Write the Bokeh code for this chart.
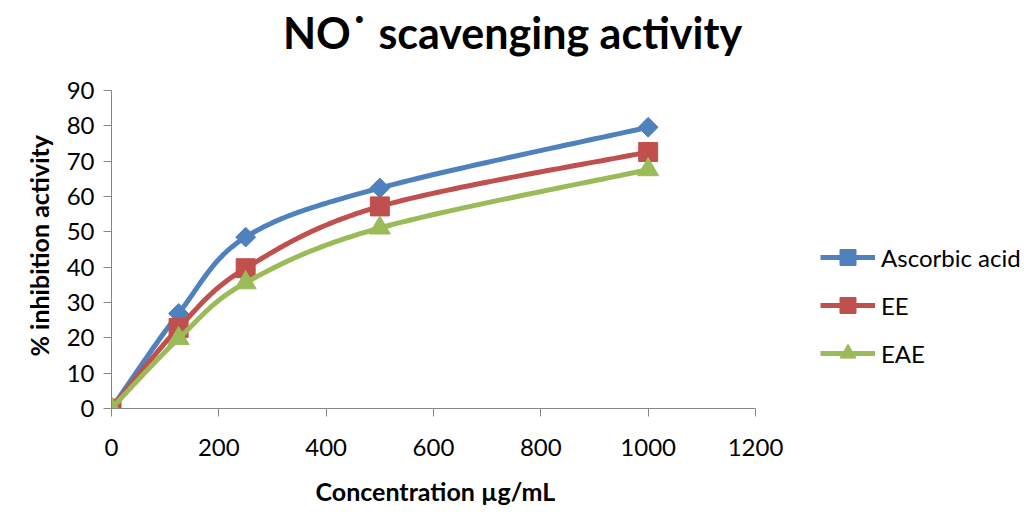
import numpy as np
from bokeh.plotting import figure
from bokeh.models import Legend, LegendItem, FixedTicker, Title, Label
from bokeh.embed import file_html
from bokeh.resources import INLINE

# ---- data ----
concentration = [0, 125, 250, 500, 1000]
ascorbic_acid = [0, 26.9, 48.5, 62.4, 79.6]
ee = [0, 22.8, 39.7, 57.2, 72.6]
eae = [0, 19.8, 35.6, 51.1, 67.6]
series_names = ["Ascorbic acid", "EE", "EAE"]
series_colors = ["#4F81BD", "#C0504D", "#9BBB59"]
series_markers = ["diamond", "square", "triangle"]
x_ticks = [0, 200, 400, 600, 800, 1000, 1200]
y_ticks = [0, 10, 20, 30, 40, 50, 60, 70, 80, 90]
x_axis_max = 1200
y_axis_max = 90

FONT = "Lato"

# layout (pixels)
W, H = 1024, 521
LEFT, AXIS_RIGHT, AXIS_TOP, BOTTOM = 111, 755, 90, 408
# the frame reaches to the right and top edges so that the legend and title
# (drawn inside the frame) are not clipped; the axes are bounded to their data extent
x_end = x_axis_max * (W - LEFT) / (AXIS_RIGHT - LEFT)
y_end = y_axis_max * BOTTOM / (BOTTOM - AXIS_TOP)


def smooth(xs, ys, n=40):
    """Excel-style smoothed line (Catmull-Rom / cubic Bezier) through the data points."""
    P = np.column_stack([xs, ys]).astype(float)
    m = len(P)
    out = [P[0]]
    for i in range(m - 1):
        p0 = P[i - 1] if i > 0 else P[i]
        p1 = P[i]
        p2 = P[i + 1]
        p3 = P[i + 2] if i + 2 < m else P[i + 1]
        c1 = p1 + (p2 - p0) / 6.0
        c2 = p2 - (p3 - p1) / 6.0
        t = np.linspace(0, 1, n)[1:, None]
        seg = ((1 - t) ** 3) * p1 + 3 * ((1 - t) ** 2) * t * c1 + 3 * (1 - t) * t ** 2 * c2 + t ** 3 * p2
        out.extend(seg)
    out = np.array(out)
    return out[:, 0], out[:, 1]


p = figure(width=W, height=H, x_range=(0, x_end), y_range=(0, y_end),
           output_backend="svg", toolbar_location=None,
           min_border_left=LEFT, min_border_right=0, min_border_top=0,
           min_border_bottom=H - BOTTOM)
p.outline_line_color = None
p.xgrid.visible = False
p.ygrid.visible = False

for ax in (p.xaxis, p.yaxis):
    ax.axis_line_color = "#868686"
    ax.axis_line_width = 1
    ax.major_tick_line_color = "#868686"
    ax.minor_tick_line_color = None
    ax.major_tick_in = 0
    ax.major_tick_out = 8
    ax.major_label_text_font = FONT
    ax.major_label_text_font_size = "24px"
    ax.major_label_text_color = "black"
    ax.axis_label_text_font = FONT
    ax.axis_label_text_font_style = "bold"
    ax.axis_label_text_font_size = "25px"
    ax.axis_label_text_color = "black"

p.xaxis.bounds = (0, x_axis_max)
p.yaxis.bounds = (0, y_axis_max)
p.xaxis.ticker = FixedTicker(ticks=x_ticks)
p.yaxis.ticker = FixedTicker(ticks=y_ticks)
p.xaxis.major_label_standoff = 22
p.yaxis.major_label_standoff = 9

# axis titles, centred on the drawn axes rather than on the whole frame
xtitle = Title(text="Concentration µg/mL", text_font=FONT, text_font_style="bold",
               text_font_size="25px", align="left", offset=315 - LEFT, text_color="black",
               standoff=31)
p.add_layout(xtitle, "below")
ytitle = Title(text="% inhibition activity", text_font=FONT, text_font_style="bold",
               text_font_size="25px", align="left", offset=409 - 357, text_color="black",
               standoff=20)
p.add_layout(ytitle, "left")

items = []
for name, ys, col, mk in zip(series_names, [ascorbic_acid, ee, eae], series_colors, series_markers):
    sx, sy = smooth(concentration, ys)
    r1 = p.line(sx, sy, line_color=col, line_width=5)
    if mk == "diamond":
        r2 = p.scatter(concentration, ys, marker="square", size=14, angle=np.pi / 4,
                       fill_color=col, line_color=col)
    elif mk == "triangle":
        r2 = p.scatter(concentration, ys, marker="triangle", size=21, fill_color=col, line_color=col)
    else:
        r2 = p.scatter(concentration, ys, marker="square", size=19, fill_color=col, line_color=col)
    items.append(LegendItem(label=name, renderers=[r1, r2]))

legend = Legend(items=items, location=(820 - LEFT, BOTTOM - 373), orientation="vertical",
                glyph_width=55, glyph_height=40, spacing=8, padding=0, margin=0,
                label_standoff=6, label_text_font=FONT, label_text_font_size="24px",
                label_text_color="black", border_line_color=None,
                background_fill_alpha=0)
p.add_layout(legend, "center")

# chart title (screen units are measured from the frame's bottom-left corner)
title = Label(x=512 - LEFT, y=BOTTOM - 32, x_units="screen", y_units="screen",
              text="NO˙ scavenging activity", text_font=FONT, text_font_style="bold",
              text_font_size="43px", text_align="center", text_baseline="middle",
              text_color="black")
p.add_layout(title)

open("out.html", "w").write(file_html(p, INLINE))
